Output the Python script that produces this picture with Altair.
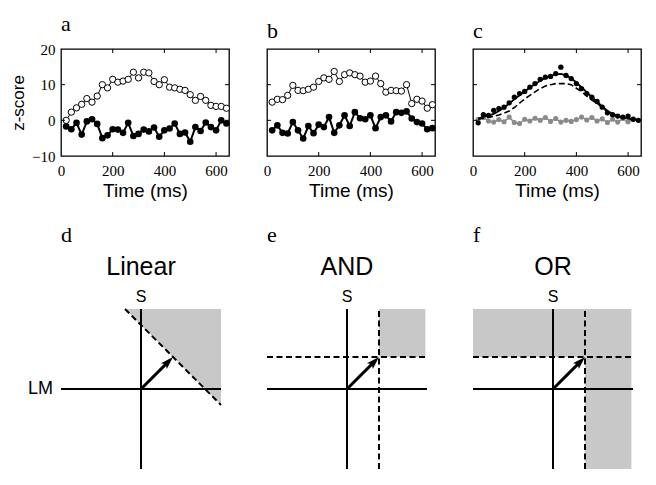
import altair as alt
import pandas as pd

# ---------------- data ----------------
time_ms = [20, 40, 60, 80, 100, 120, 140, 160, 180, 200, 220, 240, 260, 280, 300, 320,
           340, 360, 380, 400, 420, 440, 460, 480, 500, 520, 540, 560, 580, 600, 620, 640]

a_open = [0.0, 2.3, 3.5, 4.5, 6.1, 5.1, 6.8, 10.0, 9.1, 11.5, 10.7, 11.0, 11.5, 13.5, 11.9, 13.5,
          13.3, 10.9, 10.0, 11.4, 9.3, 9.1, 8.7, 8.4, 7.2, 5.6, 6.7, 5.6, 4.2, 3.9, 3.9, 3.4]
a_filled = [-1.7, -2.5, -0.7, -4.0, -0.3, 0.3, -1.0, -5.0, -4.2, -2.5, -2.6, -3.5, -0.7, -4.4, -3.8, -2.6,
            -3.1, -2.0, -4.6, -2.8, -2.3, -0.9, -3.8, -3.4, -6.0, -1.9, -3.0, -0.6, -1.9, -2.8, 0.0, -0.9]

b_open = [5.1, 5.9, 5.8, 7.0, 9.8, 8.4, 8.3, 8.7, 9.3, 10.9, 11.9, 11.5, 13.7, 10.9, 12.8, 13.3,
          12.8, 12.4, 10.7, 11.0, 12.4, 10.3, 7.9, 8.4, 8.3, 8.2, 10.0, 4.7, 5.9, 5.4, 3.4, 4.4]
b_filled = [-2.8, -1.4, -3.5, -3.7, -0.5, -2.8, -5.1, -1.6, -3.6, -1.2, -1.9, 0.9, -3.5, -1.4, 1.4, -1.6,
            2.3, 0.6, 0.3, 1.4, -2.2, 0.9, 1.4, -0.3, 2.3, 2.1, 2.5, 0.5, -0.5, -0.9, -2.5, -2.2]

c_black = [-0.7, 1.6, 1.4, 2.8, 3.3, 3.7, 4.9, 6.5, 7.5, 8.1, 9.3, 10.3, 11.5, 12.1, 12.3, 13.1,
           14.9, 12.6, 11.7, 10.3, 8.9, 7.5, 6.5, 5.3, 3.7, 2.1, 1.6, 1.2, 0.9, 1.2, 0.3, 0.0]
c_gray = [0.3, 0.8, -0.2, -0.5, 0.2, -0.4, 0.9, -0.6, -0.9, 0.3, -0.2, 0.6, 0.0, 0.8, -0.3, 0.5,
          -0.5, 0.0, -0.3, 0.2, 0.9, 0.1, 0.8, -0.2, 0.4, -0.6, 0.3, -0.5, 0.5, -0.4, 0.3, 0.0]
c_solid = [0.5, 1.0, 1.3, 1.8, 2.6, 3.6, 4.7, 5.9, 7.0, 8.1, 9.2, 10.2, 11.1, 11.9, 12.5, 12.9,
           13.0, 12.6, 11.8, 10.6, 9.2, 7.9, 6.5, 5.2, 3.9, 2.7, 1.8, 1.2, 0.8, 0.5, 0.3, 0.1]
c_dashed = [0.3, 0.6, 0.8, 1.1, 1.5, 2.0, 2.6, 3.6, 4.8, 6.0, 7.0, 8.0, 8.9, 9.6, 10.0, 10.3,
            10.3, 10.3, 10.0, 9.0, 8.0, 6.8, 5.7, 4.8, 3.6, 2.4, 1.6, 1.0, 0.7, 0.5, 0.3, 0.2]

x_ticks = [0, 200, 400, 600]
y_ticks = [-10, 0, 10, 20]
x_inner = [200, 400, 600]
y_inner = [0, 10]

# schematic panels (d, e, f)
schem_titles = ["Linear", "AND", "OR"]
schem_letters = ["d", "e", "f"]
axes_x = [-1.0, 0.0]
axes_x2 = [1.0, 0.0]
axes_y = [0.0, -1.0]
axes_y2 = [0.0, 1.0]
d_dash = {"x": [-0.2], "y": [1.0], "x2": [1.0], "y2": [-0.2]}
ef_dash = {"x": [-1.0, 0.4], "y": [0.4, -1.0], "x2": [1.0, 0.4], "y2": [0.4, 1.0]}
d_gray = {"x": [-0.2, 1.0], "top": [1.0, 1.0], "bottom": [1.0, -0.2]}
e_gray = {"x": [0.4], "x2": [0.98], "y": [0.4], "y2": [1.0]}
f_gray = {"x": [-1.0, 0.4], "x2": [0.98, 0.98], "y": [0.4, -1.0], "y2": [1.0, 0.4]}
arrow_shaft = {"x": [0.0, 0.33], "y": [0.0, 0.33]}
arrow_tip = {"x": [0.4], "y": [0.4]}
title_pos = {"x": [0.0], "y": [1.52]}
s_label = {"x": [0.0], "y": [1.15], "txt": ["S"]}
lm_label = {"x": [-1.1], "y": [0.0], "txt": ["LM"]}

# ---------------- styling ----------------
SERIF = "Liberation Serif"
SANS = "Liberation Sans"
W, H = 168, 107
BW, BH = 160, 216
BTOP = 1.7
GRAY_FILL = "#c8c8c8"


def xenc():
    return alt.X("t:Q", scale=alt.Scale(domain=[0, 650], nice=False, zero=False),
                 axis=alt.Axis(values=x_ticks, title="Time (ms)", ticks=False, domain=False, grid=False,
                               labelFlush=False, labelFont=SERIF, labelFontSize=15, labelPadding=7,
                               labelColor="black", titleFont=SANS, titleFontSize=19,
                               titleFontWeight="normal", titlePadding=3, titleColor="black"))


def yenc(field, show):
    scale = alt.Scale(domain=[-10, 20], nice=False, zero=False)
    if show:
        ax = alt.Axis(values=y_ticks, title="z-score", ticks=False, domain=False, grid=False,
                      labelFont=SERIF, labelFontSize=15, labelPadding=6, labelColor="black",
                      titleFont=SANS, titleFontSize=17, titleFontWeight="normal", titlePadding=4,
                      titleColor="black")
        return alt.Y(f"{field}:Q", scale=scale, axis=ax)
    return alt.Y(f"{field}:Q", scale=scale, axis=None)


def frame_ticks(show):
    tx = pd.DataFrame({"t": x_inner})
    ty = pd.DataFrame({"v": y_inner})
    r = dict(color="black", strokeWidth=1)
    return [
        alt.Chart(tx).mark_rule(**r).encode(x=xenc(), y=alt.value(H), y2=alt.value(H - 4)),
        alt.Chart(tx).mark_rule(**r).encode(x=xenc(), y=alt.value(0), y2=alt.value(4)),
        alt.Chart(ty).mark_rule(**r).encode(y=yenc("v", show), x=alt.value(0), x2=alt.value(4)),
        alt.Chart(ty).mark_rule(**r).encode(y=yenc("v", show), x=alt.value(W), x2=alt.value(W - 4)),
    ]


def letter_title(letter):
    return alt.TitleParams(letter, anchor="start", frame="group", font=SERIF, fontSize=22,
                           fontWeight="normal", offset=6, color="black")


def open_filled_panel(letter, open_vals, filled_vals, show):
    df = pd.DataFrame({"t": time_ms, "open": open_vals, "filled": filled_vals})
    base = alt.Chart(df)
    layers = [
        base.mark_line(color="black", strokeWidth=2).encode(x=xenc(), y=yenc("filled", show)),
        base.mark_circle(color="black", size=44, opacity=1).encode(x=xenc(), y=yenc("filled", show)),
        base.mark_line(color="black", strokeWidth=1).encode(x=xenc(), y=yenc("open", show)),
        base.mark_circle(fill="white", stroke="black", strokeWidth=1, size=40, opacity=1).encode(
            x=xenc(), y=yenc("open", show)),
    ] + frame_ticks(show)
    return alt.layer(*layers).properties(
        width=W, height=H, title=letter_title(letter),
        view=alt.ViewBackground(stroke="black", strokeWidth=1.3))


pa = open_filled_panel("a", a_open, a_filled, True)
pb = open_filled_panel("b", b_open, b_filled, False)

df_c = pd.DataFrame({"t": time_ms, "black": c_black, "gray": c_gray, "solid": c_solid, "dashed": c_dashed})
bc = alt.Chart(df_c)
pc = alt.layer(
    bc.mark_line(color="#8a8a8a", strokeWidth=1.5).encode(x=xenc(), y=yenc("gray", False)),
    bc.mark_circle(color="#8a8a8a", size=26, opacity=1).encode(x=xenc(), y=yenc("gray", False)),
    bc.mark_line(color="black", strokeWidth=1.6, strokeDash=[6, 3]).encode(x=xenc(), y=yenc("dashed", False)),
    bc.mark_line(color="black", strokeWidth=1.8).encode(x=xenc(), y=yenc("solid", False)),
    bc.mark_circle(color="black", size=28, opacity=1).encode(x=xenc(), y=yenc("black", False)),
    *frame_ticks(False)
).properties(width=W, height=H, title=letter_title("c"),
             view=alt.ViewBackground(stroke="black", strokeWidth=1.3))


def sx(f):
    return alt.X(f"{f}:Q", scale=alt.Scale(domain=[-1, 1], nice=False, zero=False), axis=None)


def sy(f):
    return alt.Y(f"{f}:Q", scale=alt.Scale(domain=[-1, BTOP], nice=False, zero=False), axis=None)


ARROW_PATH = "M0,0 L0.45,1.4 L0,1.1 L-0.45,1.4 Z"


def schematic(idx):
    layers = []
    if idx == 0:
        layers.append(alt.Chart(pd.DataFrame(d_gray)).mark_area(color=GRAY_FILL, opacity=1).encode(
            x=sx("x"), y=sy("top"), y2=alt.Y2("bottom:Q")))
    else:
        g = e_gray if idx == 1 else f_gray
        layers.append(alt.Chart(pd.DataFrame(g)).mark_rect(color=GRAY_FILL, opacity=1).encode(
            x=sx("x"), x2=alt.X2("x2:Q"), y=sy("y"), y2=alt.Y2("y2:Q")))
    axes_df = pd.DataFrame({"x": axes_x, "x2": axes_x2, "y": axes_y, "y2": axes_y2})
    layers.append(alt.Chart(axes_df).mark_rule(color="black", strokeWidth=2).encode(
        x=sx("x"), x2=alt.X2("x2:Q"), y=sy("y"), y2=alt.Y2("y2:Q")))
    dash = d_dash if idx == 0 else ef_dash
    layers.append(alt.Chart(pd.DataFrame(dash)).mark_rule(color="black", strokeWidth=2, strokeDash=[6, 3.5]).encode(
        x=sx("x"), x2=alt.X2("x2:Q"), y=sy("y"), y2=alt.Y2("y2:Q")))
    layers.append(alt.Chart(pd.DataFrame(arrow_shaft)).mark_line(color="black", strokeWidth=3, strokeCap="butt").encode(
        x=sx("x"), y=sy("y")))
    layers.append(alt.Chart(pd.DataFrame(arrow_tip)).mark_point(
        shape=ARROW_PATH, filled=True, color="black", size=340, angle=45, opacity=1).encode(
        x=sx("x"), y=sy("y")))
    tdf = pd.DataFrame({"x": title_pos["x"], "y": title_pos["y"], "txt": [schem_titles[idx]]})
    layers.append(alt.Chart(tdf).mark_text(font=SANS, fontSize=25, color="black", align="center",
                                           baseline="middle").encode(x=sx("x"), y=sy("y"), text="txt:N"))
    layers.append(alt.Chart(pd.DataFrame(s_label)).mark_text(font=SANS, fontSize=16, color="black", align="center",
                                                           baseline="middle").encode(x=sx("x"), y=sy("y"), text="txt:N"))
    if idx == 0:
        layers.append(alt.Chart(pd.DataFrame(lm_label)).mark_text(font=SANS, fontSize=18, color="black", align="right",
                                                                baseline="middle").encode(x=sx("x"), y=sy("y"), text="txt:N"))
    return alt.layer(*layers).properties(width=BW, height=BH, title=letter_title(schem_letters[idx]))


pd_, pe, pf = schematic(0), schematic(1), schematic(2)

chart = alt.concat(pa, pb, pc, pd_, pe, pf, columns=3,
                   spacing={"row": 97, "column": 38}, bounds="flush").properties(
    padding={"left": 0, "top": 4, "right": 5, "bottom": 5}
).configure_view(stroke="transparent")

chart.save("out.html", embed_options={"renderer": "svg", "actions": False})
